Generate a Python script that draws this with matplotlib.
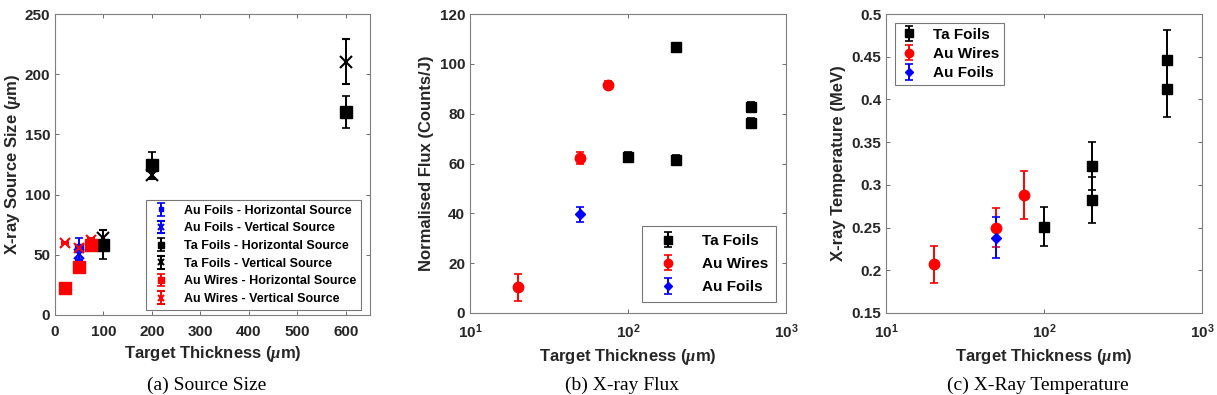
#---Three panel X-ray source plot (size / flux / temperature)
import matplotlib
matplotlib.use("Agg")
import matplotlib.pyplot as plt
import numpy as np

#---Data-------------------------------------------------------------------------------------
# (a) Source size (um)
ta_x = [100, 200, 600]
ta_h = [58.5, 124.7, 168.5]
ta_h_err = [12.0, 10.5, 13.5]
ta_v = [64.0, 116.5, 210.5]
ta_v_err = [7.0, 3.5, 19.0]

auf_x = [50]
auf_h = [55.5]
auf_h_err = [8.5]
auf_v = [50.5]
auf_v_err = [5.0]

auw_x = [20, 50, 75]
auw_h = [22.5, 39.7, 57.8]
auw_h_err = [1.0, 1.5, 2.0]
auw_v = [60.0, 55.6, 62.0]
auw_v_err = [1.0, 1.5, 2.0]

# (b) Normalised flux (Counts/J)
flux_ta_x = [100, 200, 200, 600, 600]
flux_ta = [62.7, 106.6, 61.3, 82.8, 76.1]
flux_ta_err = [2.0, 1.5, 2.0, 2.0, 2.0]
flux_auw_x = [20, 50, 75]
flux_auw = [10.3, 62.3, 91.7]
flux_auw_err = [5.5, 2.5, 1.5]
flux_auf_x = [50]
flux_auf = [39.6]
flux_auf_err = [3.0]

# (c) X-ray temperature (MeV)
temp_ta_x = [100, 200, 200, 600, 600]
temp_ta = [0.251, 0.322, 0.282, 0.446, 0.412]
temp_ta_err = [0.023, 0.028, 0.027, 0.035, 0.033]
temp_auw_x = [20, 50, 75]
temp_auw = [0.207, 0.250, 0.288]
temp_auw_err = [0.022, 0.023, 0.028]
temp_auf_x = [50]
temp_auf = [0.238]
temp_auf_err = [0.024]

#---Style------------------------------------------------------------------------------------
plt.rcParams['font.family'] = ['Liberation Sans', 'DejaVu Sans']
plt.rcParams['font.weight'] = 'bold'
plt.rcParams['axes.labelweight'] = 'bold'
plt.rcParams['mathtext.fontset'] = 'custom'
plt.rcParams['mathtext.it'] = 'Liberation Serif:italic'
txtcol = '#262626'
spcol = '#7f7f7f'
tfs = 11
lfs = 12

fg = plt.figure(figsize=(12.17, 3.95), dpi=100)
W, H = 1217.0, 395.0
ax1 = fg.add_axes([55/W, 1-315/H, 315/W, 301/H])
ax2 = fg.add_axes([470/W, 1-313/H, 316/W, 299/H])
ax3 = fg.add_axes([886/W, 1-313/H, 316/W, 299/H])

def style(ax):
  for s in ['top', 'bottom', 'left', 'right']:
    ax.spines[s].set_color(spcol)
    ax.spines[s].set_linewidth(0.8)
  ax.tick_params(direction='in', top=True, right=True, length=3, width=0.6,
                 color='#555555', labelsize=tfs, labelcolor=txtcol)
  ax.tick_params(axis='x', pad=7)
  ax.tick_params(which='minor', length=0)
  for t in ax.get_xticklabels() + ax.get_yticklabels():
    t.set_fontweight('bold')

eb = dict(capsize=3, elinewidth=1.4, capthick=1.2, linestyle='none')
lgkw = dict(frameon=True, fancybox=False, edgecolor='#555555', borderaxespad=0)

#---(a) Source Size--------------------------------------------------------------------------
ax1.errorbar(auf_x, auf_h, yerr=auf_h_err, fmt='s', color='blue', ms=6, label='Au Foils - Horizontal Source', **eb)
ax1.errorbar(auf_x, auf_v, yerr=auf_v_err, fmt='x', color='blue', ms=7, mew=1.5, label='Au Foils - Vertical Source', **eb)
ax1.errorbar(ta_x, ta_h, yerr=ta_h_err, fmt='s', color='black', ms=8, label='Ta Foils - Horizontal Source', **eb)
ax1.errorbar(ta_x, ta_v, yerr=ta_v_err, fmt='x', color='black', ms=8, mew=1.5, label='Ta Foils - Vertical Source', **eb)
ax1.errorbar(auw_x, auw_h, yerr=auw_h_err, fmt='s', color='red', ms=8, label='Au Wires - Horizontal Source', **eb)
ax1.errorbar(auw_x, auw_v, yerr=auw_v_err, fmt='x', color='red', ms=7, mew=1.5, label='Au Wires - Vertical Source', **eb)
ax1.set_xlim(0, 650)
ax1.set_ylim(0, 250)
ax1.set_xticks(np.arange(0, 601, 100))
ax1.set_yticks(np.arange(0, 251, 50))
ax1.set_xlabel(r'Target Thickness ($\mu$m)', fontsize=lfs, color=txtcol, labelpad=4)
ax1.set_ylabel(r'X-ray Source Size ($\mu$m)', fontsize=lfs, color=txtcol, labelpad=1)
lg1 = ax1.legend(loc='lower right', fontsize=9, handlelength=1.6, labelspacing=0.45, borderpad=0.4,
                 handletextpad=1.0, markerscale=0.6, bbox_to_anchor=(0.971, 0.017), **lgkw)
lg1.get_frame().set_linewidth(0.8)
style(ax1)

#---(b) X-ray Flux---------------------------------------------------------------------------
ax2.errorbar(flux_ta_x, flux_ta, yerr=flux_ta_err, fmt='s', color='black', ms=6.5, label='Ta Foils', **eb)
ax2.errorbar(flux_auw_x, flux_auw, yerr=flux_auw_err, fmt='o', color='red', ms=7.5, label='Au Wires', **eb)
ax2.errorbar(flux_auf_x, flux_auf, yerr=flux_auf_err, fmt='D', color='blue', ms=5.5, label='Au Foils', **eb)
ax2.set_xscale('log')
ax2.set_xlim(10, 1000)
ax2.set_ylim(0, 120)
ax2.set_yticks(np.arange(0, 121, 20))
ax2.set_xlabel(r'Target Thickness ($\mu$m)', fontsize=lfs, color=txtcol, labelpad=4)
ax2.set_ylabel('Normalised Flux (Counts/J)', fontsize=lfs, color=txtcol, labelpad=4)
lg2 = ax2.legend(loc='lower right', fontsize=11, handlelength=2.4, labelspacing=0.6, borderpad=0.5,
                 handletextpad=1.0, markerscale=0.8, bbox_to_anchor=(0.968, 0.037), **lgkw)
lg2.get_frame().set_linewidth(0.8)
style(ax2)

#---(c) X-Ray Temperature--------------------------------------------------------------------
ax3.errorbar(temp_ta_x, temp_ta, yerr=temp_ta_err, fmt='s', color='black', ms=6.5, label='Ta Foils', **eb)
ax3.errorbar(temp_auw_x, temp_auw, yerr=temp_auw_err, fmt='o', color='red', ms=7.5, label='Au Wires', **eb)
ax3.errorbar(temp_auf_x, temp_auf, yerr=temp_auf_err, fmt='D', color='blue', ms=5.5, label='Au Foils', **eb)
ax3.set_xscale('log')
ax3.set_xlim(10, 1000)
ax3.set_ylim(0.15, 0.5)
ax3.set_yticks(np.arange(0.15, 0.501, 0.05))
ax3.set_yticklabels(['0.15', '0.2', '0.25', '0.3', '0.35', '0.4', '0.45', '0.5'])
ax3.set_xlabel(r'Target Thickness ($\mu$m)', fontsize=lfs, color=txtcol, labelpad=4)
ax3.set_ylabel('X-ray Temperature (MeV)', fontsize=lfs, color=txtcol, labelpad=4)
lg3 = ax3.legend(loc='upper left', fontsize=11, handlelength=1.3, labelspacing=0.35, borderpad=0.3,
                 handletextpad=0.9, markerscale=0.8, bbox_to_anchor=(0.028, 0.97), **lgkw)
lg3.get_frame().set_linewidth(0.8)
style(ax3)

#---Captions---------------------------------------------------------------------------------
cap = dict(fontsize=14, family='Liberation Serif', weight='normal', ha='center', va='center', color='black')
fg.text(207/W, 1-385/H, '(a) Source Size', **cap)
fg.text(622/W, 1-385/H, '(b) X-ray Flux', **cap)
fg.text(1038/W, 1-385/H, '(c) X-Ray Temperature', **cap)

plt.savefig('out.png', dpi=100)
